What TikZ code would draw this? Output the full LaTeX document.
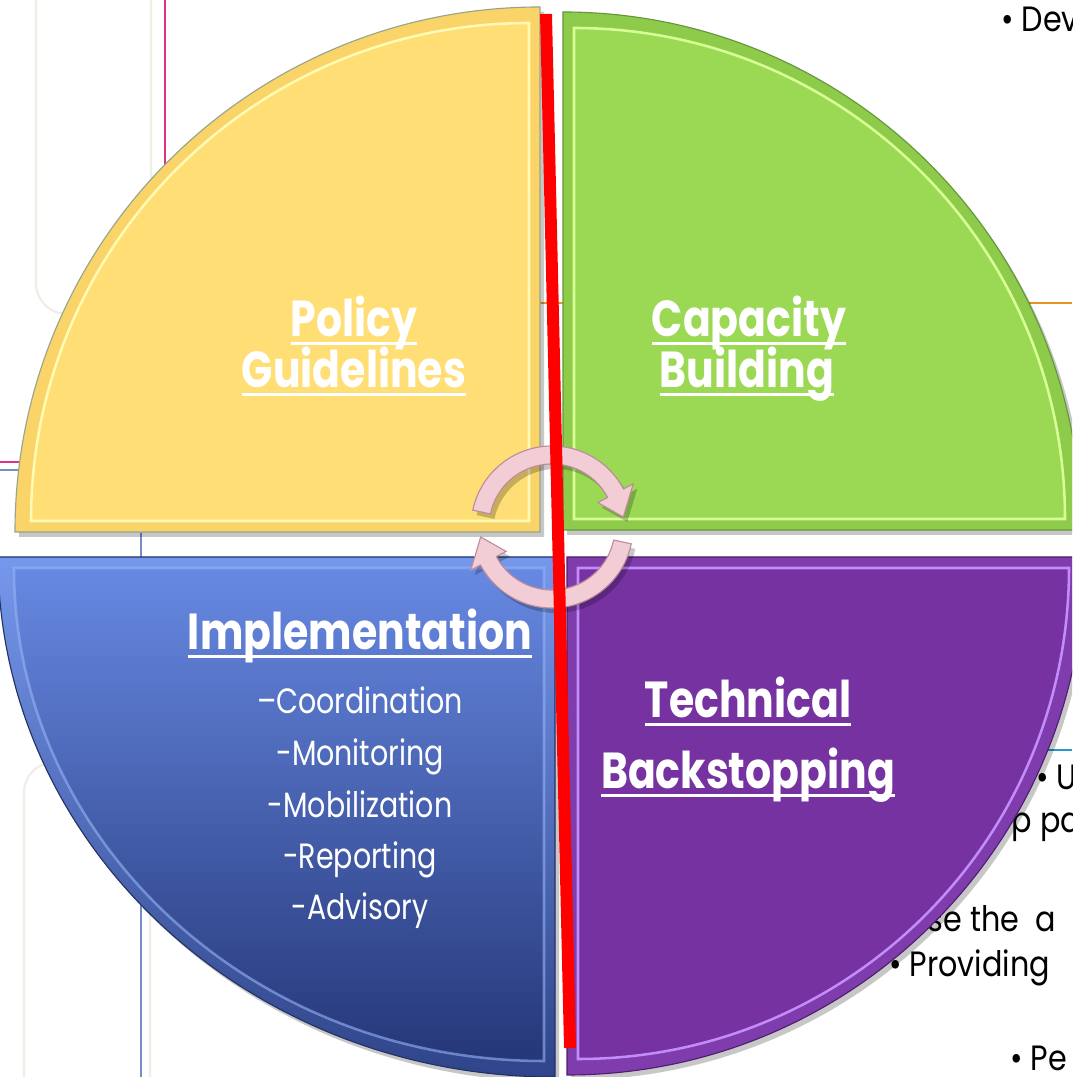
\documentclass[tikz,border=0pt]{standalone}
\usepackage{fontspec}
\setmainfont{Poppins}
\newfontfamily\twcen[FakeStretch=0.86]{Poppins}
\newfontfamily\twcenlabel[FakeStretch=0.81]{Poppins}
\usetikzlibrary{calc}

% underlined heading word
\newcommand{\ulword}[1]{\setbox0=\hbox{#1}\rlap{\rule[-5.5pt]{\wd0}{2pt}}\box0}

% colours
\definecolor{policyfill}{RGB}{255,222,117}
\definecolor{policyband}{RGB}{250,212,104}
\definecolor{policylight}{RGB}{255,250,180}
\definecolor{policyedge}{RGB}{150,165,140}
\definecolor{capfill}{RGB}{155,217,85}
\definecolor{capband}{RGB}{142,203,74}
\definecolor{caplight}{RGB}{215,255,150}
\definecolor{capedge}{RGB}{100,150,60}
\definecolor{impltop}{RGB}{103,137,226}
\definecolor{implbot}{RGB}{37,55,120}
\definecolor{implbandtop}{RGB}{118,152,236}
\definecolor{implbandbot}{RGB}{47,68,138}
\definecolor{impllight}{RGB}{150,180,245}
\definecolor{impledge}{RGB}{35,50,100}
\definecolor{techfill}{RGB}{117,50,160}
\definecolor{techband}{RGB}{126,60,173}
\definecolor{techlight}{RGB}{195,140,250}
\definecolor{techedge}{RGB}{80,30,110}
\definecolor{cyclefill}{RGB}{243,205,214}
\definecolor{cycleedge}{RGB}{190,140,155}
\definecolor{slidegrey}{RGB}{240,237,230}
\definecolor{slidepink}{RGB}{220,50,140}
\definecolor{slideblue}{RGB}{120,140,205}
\definecolor{slideorange}{RGB}{230,150,30}
\definecolor{slideteal}{RGB}{40,150,200}

% quarter discs: corner x, corner y, radius
\newcommand{\quadnw}[3]{(#1,#2) -- ++(-#3,0) arc[start angle=180, end angle=90, radius=#3] -- cycle}
\newcommand{\quadne}[3]{(#1,#2) -- ++(0,#3) arc[start angle=90, end angle=0, radius=#3] -- cycle}
\newcommand{\quadsw}[4]{(#1,#2) -- ++(0,-#4) arc[start angle=270, end angle=180, x radius=#3, y radius=#4] -- cycle}
\newcommand{\quadse}[3]{(#1,#2) -- ++(#3,0) arc[start angle=0, end angle=-90, radius=#3] -- cycle}

\begin{document}
\begin{tikzpicture}[x=0.025cm, y=0.025cm,
	quadshadow/.style={black, opacity=0.22, shift={(4,-5)}},
	title/.style={text=white, font=\twcenlabel\bfseries\fontsize{36}{36}\selectfont, anchor=base, inner sep=0pt},
	item/.style={text=white, font=\twcenlabel\fontsize{25}{25}\selectfont, anchor=base, inner sep=0pt},
	backtext/.style={text=black, font=\twcen\fontsize{25}{25}\selectfont, anchor=base west, inner sep=0pt},
	faint/.style={draw=slidegrey, line width=1.5pt, rounded corners=22pt},
	cyclearrow/.style={fill=cyclefill, draw=cycleedge, line width=0.8pt},
	redbar/.style={red, line width=8.5pt},
]

\useasboundingbox (0,0) rectangle (1072,1077);
\fill[white] (0,0) rectangle (1072,1077);
\clip (0,0) rectangle (1072,1077);

%% Slide behind the diagram %%
\draw[faint] (36,1110) rectangle (151,763);
\draw[faint] (24,-40) rectangle (150,315);
\draw[slidepink, line width=1pt] (165,1077) -- (165,600);
\draw[slidepink, line width=1pt] (0,615) -- (40,615);
\draw[slideblue, line width=1pt] (0,607) -- (40,607);
\draw[slideblue, line width=1pt] (141,544) -- (141,0);
\draw[slideorange, line width=1pt] (530,774) -- (1072,774);
\draw[slideteal, line width=1pt] (900,327) -- (1072,327);

% text of the slide %
\node[backtext] (dev) at (1001,1045) {\textbullet\ Dev};
\node[backtext] (bulletu) at (1036,287) {\textbullet\ U};
\node[backtext] (oppa) at (992,244) {op pa};
\node[backtext] (isethe) at (920,145) {ise the \ a};
\node[backtext] (providing) at (889,100) {\textbullet\ Providing};
\node[backtext] (pe) at (1010,7) {\textbullet\ Pe};

%% Quadrants %%
% Policy guidelines %
\fill[quadshadow] \quadnw{540}{545}{525};
\fill[policyband] \quadnw{540}{545}{525};
\fill[policyfill] \quadnw{529}{556}{498};
\draw[policylight, line width=1.8pt] \quadnw{529}{556}{498};
\draw[policyedge, line width=0.8pt] \quadnw{540}{545}{525};

% Capacity building %
\fill[quadshadow] \quadne{563}{547}{518};
\fill[capband] \quadne{563}{547}{518};
\fill[capfill] \quadne{574}{558}{491};
\draw[caplight, line width=1.8pt] \quadne{574}{558}{491};
\draw[capedge, line width=0.8pt] \quadne{563}{547}{518};

% Implementation %
\fill[quadshadow] \quadsw{555}{520}{557}{520};
\shade[top color=implbandtop, bottom color=implbandbot] \quadsw{555}{520}{557}{520};
\shade[top color=impltop, bottom color=implbot] \quadsw{544}{509}{530}{493};
\draw[impllight, opacity=0.6, line width=1.8pt] \quadsw{544}{509}{530}{493};
\draw[impledge, line width=0.8pt] \quadsw{555}{520}{557}{520};

% Technical backstopping %
\fill[quadshadow] \quadse{567}{520}{518};
\fill[techband] \quadse{567}{520}{518};
\fill[techfill] \quadse{578}{509}{491};
\draw[techlight, line width=1.8pt] \quadse{578}{509}{491};
\draw[techedge, line width=0.8pt] \quadse{567}{520}{518};

%% Labels %%
\node[title] (policy) at (354,740) {\ulword{Policy}};
\node[title] (guidelines) at (354,689) {\ulword{Guidelines}};
\node[title] (capacity) at (749,740) {\ulword{Capacity}};
\node[title] (building) at (747,689) {\ulword{Building}};
\node[title] (implementation) at (360,427) {\ulword{Implementation}};
\node[item] (coordination) at (360,363) {\textendash Coordination};
\node[item] (monitoring) at (360,311) {-Monitoring};
\node[item] (mobilization) at (360,259) {-Mobilization};
\node[item] (reporting) at (360,208) {-Reporting};
\node[item] (advisory) at (360,157) {-Advisory};
\node[title] (technical) at (748,359) {\ulword{Technical}};
\node[title] (backstopping) at (748,288) {\ulword{Backstopping}};

%% Cycle arrows %%
\coordinate (cyc) at (552,550);
\begin{scope}[shift={(cyc)}]
% upper arrow %
\fill[quadshadow] (168:81) arc[start angle=168, end angle=28, radius=81] -- (28:92) -- (8:72) -- (28:52) -- (28:63) arc[start angle=28, end angle=168, radius=63] -- cycle;
\filldraw[cyclearrow] (168:81) arc[start angle=168, end angle=28, radius=81] -- (28:92) -- (8:72) -- (28:52) -- (28:63) arc[start angle=28, end angle=168, radius=63] -- cycle;
% lower arrow %
\fill[quadshadow] (-12:81) arc[start angle=-12, end angle=-152, radius=81] -- (-152:92) -- (-172:72) -- (-152:52) -- (-152:63) arc[start angle=-152, end angle=-12, radius=63] -- cycle;
\filldraw[cyclearrow] (-12:81) arc[start angle=-12, end angle=-152, radius=81] -- (-152:92) -- (-172:72) -- (-152:52) -- (-152:63) arc[start angle=-152, end angle=-12, radius=63] -- cycle;
\end{scope}

%% Red bar %%
\coordinate (redtop) at (546,1063);
\coordinate (redbot) at (570,29);
\draw[redbar] (redtop) -- (redbot);

\end{tikzpicture}
\end{document}
